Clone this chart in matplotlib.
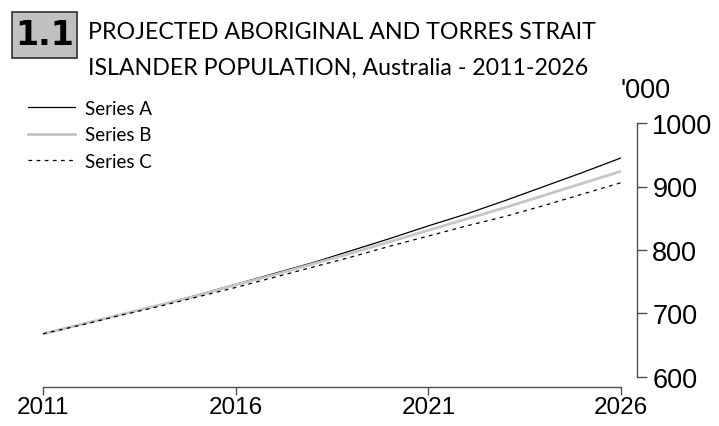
import matplotlib
matplotlib.use("Agg")
import matplotlib.pyplot as plt
from matplotlib.patches import Rectangle

years = list(range(2011, 2027))
series_a = [668, 683, 698, 713, 729, 746, 763, 780, 799, 818, 838, 857, 878, 900, 922, 945]
series_b = [668, 683, 698, 713, 728, 745, 761, 778, 795, 813, 831, 849, 867, 886, 905, 924]
series_c = [668, 682, 697, 711, 726, 741, 757, 773, 789, 806, 822, 838, 853, 870, 888, 906]
labels = ["Series A", "Series B", "Series C"]
xticks = [2011, 2016, 2021, 2026]
yticks = [600, 700, 800, 900, 1000]

W, H = 719, 427
fig = plt.figure(figsize=(W / 100, H / 100), dpi=100)
ax = fig.add_axes([43 / W, 1 - 378 / H, (621 - 43) / W, (378 - 124) / H])

lA, = ax.plot(years, series_a, color="black", lw=0.9)
lB, = ax.plot(years, series_b, color="#c6c6c6", lw=2.0)
lC, = ax.plot(years, series_c, color="black", lw=0.9, dashes=(3, 3.5))

ax.set_xlim(2011, 2026)
ax.set_ylim(600, 1000)
ax.set_xticks(xticks)
ax.set_yticks(yticks)

for s in ["top", "left"]:
    ax.spines[s].set_visible(False)
sc = "#505050"
ax.spines["bottom"].set_position(("outward", 7))
ax.spines["right"].set_position(("outward", 11.5))
ax.spines["bottom"].set_bounds(2011, 2026)
ax.spines["right"].set_bounds(600, 1000)
for s in ["bottom", "right"]:
    ax.spines[s].set_color(sc)
    ax.spines[s].set_linewidth(1.0)
ax.yaxis.tick_right()
ax.tick_params(axis="x", direction="out", length=6, width=1.0, color=sc,
               labelsize=17.5, pad=1)
ax.tick_params(axis="y", direction="out", length=7, width=1.0, color=sc,
               labelsize=19.5, pad=4)
for lab in ax.get_xticklabels() + ax.get_yticklabels():
    lab.set_family("Liberation Sans")

fig.text(621 / W, 1 - 91 / H, "'000", family="Liberation Sans", fontsize=19.5,
         ha="left", va="center")

# Title block
fig.patches.append(Rectangle((12 / W, 1 - 59 / H), 65 / W, 46 / H, transform=fig.transFigure,
                             facecolor="#c0c0c0", edgecolor="#303030", lw=1.2))
fig.text(45 / W, 1 - 45 / H, "1.1", family="DejaVu Sans", fontweight="bold", fontsize=24,
         ha="center", va="baseline")
fig.text(88 / W, 1 - 39 / H, "PROJECTED ABORIGINAL AND TORRES STRAIT", family="Lato",
         fontsize=16.7, ha="left", va="baseline")
fig.text(88 / W, 1 - 75 / H, "ISLANDER POPULATION, Australia - 2011-2026", family="Lato",
         fontsize=16.7, ha="left", va="baseline")

leg = fig.legend([lA, lB, lC], labels, loc="upper left", bbox_to_anchor=(28 / W, 1 - 101 / H),
                 frameon=False, prop={"family": "Lato", "size": 13.5},
                 handlelength=2.5, handletextpad=0.53, labelspacing=0.5, borderaxespad=0,
                 borderpad=0)

fig.savefig("out.png", dpi=100)
